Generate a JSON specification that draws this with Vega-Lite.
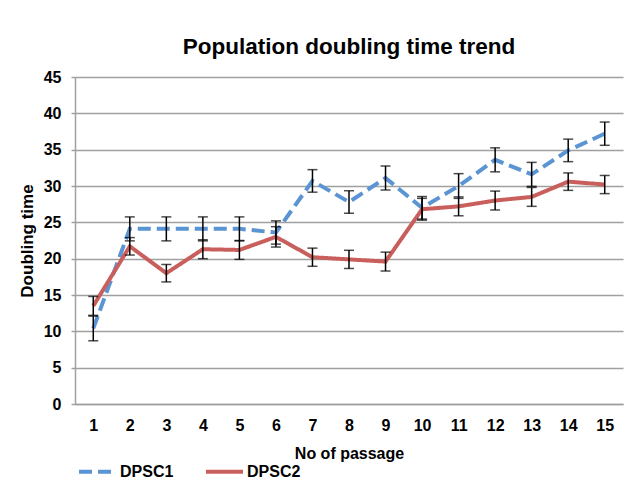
{
  "$schema": "https://vega.github.io/schema/vega-lite/v6.json",
  "width": 548,
  "height": 327,
  "autosize": {"type": "none"},
  "padding": {"left": 75, "top": 77, "right": 11, "bottom": 78},
  "background": "white",
  "title": {
    "text": "Population doubling time trend",
    "font": "Liberation Sans",
    "fontSize": 22.5,
    "fontWeight": "bold",
    "color": "black",
    "anchor": "middle",
    "offset": 11
  },
  "data": {
    "values": [
      {"passage": 1, "series": "DPSC1", "value": 10.4, "err": 1.7},
      {"passage": 2, "series": "DPSC1", "value": 24.1, "err": 1.65},
      {"passage": 3, "series": "DPSC1", "value": 24.1, "err": 1.65},
      {"passage": 4, "series": "DPSC1", "value": 24.1, "err": 1.65},
      {"passage": 5, "series": "DPSC1", "value": 24.1, "err": 1.65},
      {"passage": 6, "series": "DPSC1", "value": 23.6, "err": 1.6},
      {"passage": 7, "series": "DPSC1", "value": 30.7, "err": 1.55},
      {"passage": 8, "series": "DPSC1", "value": 27.8, "err": 1.55},
      {"passage": 9, "series": "DPSC1", "value": 31.1, "err": 1.65},
      {"passage": 10, "series": "DPSC1", "value": 27.0, "err": 1.55},
      {"passage": 11, "series": "DPSC1", "value": 30.0, "err": 1.7},
      {"passage": 12, "series": "DPSC1", "value": 33.6, "err": 1.65},
      {"passage": 13, "series": "DPSC1", "value": 31.6, "err": 1.65},
      {"passage": 14, "series": "DPSC1", "value": 34.9, "err": 1.55},
      {"passage": 15, "series": "DPSC1", "value": 37.2, "err": 1.6},
      {"passage": 1, "series": "DPSC2", "value": 13.5, "err": 1.3},
      {"passage": 2, "series": "DPSC2", "value": 21.7, "err": 1.2},
      {"passage": 3, "series": "DPSC2", "value": 18.0, "err": 1.2},
      {"passage": 4, "series": "DPSC2", "value": 21.3, "err": 1.3},
      {"passage": 5, "series": "DPSC2", "value": 21.2, "err": 1.3},
      {"passage": 6, "series": "DPSC2", "value": 23.0, "err": 1.4},
      {"passage": 7, "series": "DPSC2", "value": 20.2, "err": 1.25},
      {"passage": 8, "series": "DPSC2", "value": 19.9, "err": 1.25},
      {"passage": 9, "series": "DPSC2", "value": 19.6, "err": 1.3},
      {"passage": 10, "series": "DPSC2", "value": 26.8, "err": 1.5},
      {"passage": 11, "series": "DPSC2", "value": 27.2, "err": 1.3},
      {"passage": 12, "series": "DPSC2", "value": 28.0, "err": 1.3},
      {"passage": 13, "series": "DPSC2", "value": 28.5, "err": 1.3},
      {"passage": 14, "series": "DPSC2", "value": 30.6, "err": 1.2},
      {"passage": 15, "series": "DPSC2", "value": 30.2, "err": 1.25}
    ]
  },
  "encoding": {
    "x": {
      "field": "passage",
      "type": "ordinal",
      "scale": {"type": "point", "padding": 0.5},
      "axis": {
        "title": "No of passage",
        "labelAngle": 0,
        "ticks": false,
        "tickSize": 0,
        "labelPadding": 13,
        "grid": false,
        "titleY": 54,
        "titleBaseline": "alphabetic",
        "titleFontSize": 16
      }
    },
    "y": {
      "field": "value",
      "type": "quantitative",
      "scale": {"domain": [0, 45], "nice": false, "zero": true},
      "axis": {
        "title": "Doubling time",
        "values": [0, 5, 10, 15, 20, 25, 30, 35, 40, 45],
        "tickSize": 4,
        "labelPadding": 10,
        "grid": true,
        "titleAngle": -90,
        "titleX": -48,
        "titleY": 163.5,
        "titleAlign": "center",
        "titleBaseline": "middle",
        "titleFontSize": 17
      }
    }
  },
  "layer": [
    {
      "mark": {"type": "line", "strokeWidth": 4, "strokeCap": "butt", "strokeJoin": "miter"},
      "encoding": {
        "color": {
          "field": "series",
          "type": "nominal",
          "scale": {"domain": ["DPSC1", "DPSC2"], "range": ["#5A94D2", "#C95F5C"]},
          "legend": {
            "orient": "none",
            "legendX": 2,
            "legendY": 374,
            "direction": "horizontal",
            "title": null,
            "symbolType": "stroke",
            "symbolSize": 1369,
            "symbolStrokeWidth": 4,
            "labelFontSize": 16,
            "labelFontWeight": "bold",
            "labelFont": "Liberation Sans",
            "labelColor": "black",
            "labelOffset": 2,
            "columnPadding": 24
          }
        },
        "strokeDash": {
          "field": "series",
          "type": "nominal",
          "scale": {"domain": ["DPSC1", "DPSC2"], "range": [[13, 6], [1, 0]]},
          "legend": {
            "orient": "none",
            "legendX": 2,
            "legendY": 374,
            "direction": "horizontal",
            "title": null,
            "symbolType": "stroke",
            "symbolSize": 1369,
            "symbolStrokeWidth": 4,
            "labelFontSize": 16,
            "labelFontWeight": "bold",
            "labelFont": "Liberation Sans",
            "labelColor": "black",
            "labelOffset": 2,
            "columnPadding": 24
          }
        }
      }
    },
    {
      "mark": {
        "type": "errorbar",
        "ticks": {"size": 10, "thickness": 1.5, "color": "black"},
        "rule": {"strokeWidth": 1.5, "color": "black"}
      },
      "encoding": {
        "yError": {"field": "err"},
        "detail": {"field": "series", "type": "nominal"}
      }
    }
  ],
  "config": {
    "font": "Liberation Sans",
    "view": {"stroke": null},
    "axis": {
      "labelFont": "Liberation Sans",
      "labelFontSize": 16,
      "labelFontWeight": "bold",
      "labelColor": "black",
      "titleFont": "Liberation Sans",
      "titleFontWeight": "bold",
      "titleColor": "black",
      "domainColor": "#A0A0A0",
      "domainWidth": 1.5,
      "tickColor": "#A0A0A0",
      "tickWidth": 1.5,
      "gridColor": "#A0A0A0",
      "gridWidth": 1.5,
      "gridOpacity": 1
    }
  }
}
